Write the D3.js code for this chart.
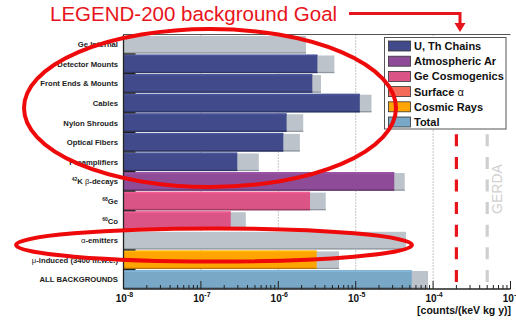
<!DOCTYPE html>
<html>
<head>
<meta charset="utf-8">
<script src="https://cdn.jsdelivr.net/npm/d3@7"></script>
<style>
  html, body { margin: 0; padding: 0; background: #fff; }
  svg { display: block; }
  text { font-family: "Liberation Sans", Arial, sans-serif; }
</style>
</head>
<body>
<div id="chart"></div>
<script>
// Background contributions per source, counts/(keV kg y)
const categories = [
  "Ge Internal", "Detector Mounts", "Front Ends & Mounts", "Cables",
  "Nylon Shrouds", "Optical Fibers", "Preamplifiers", "42K", "68Ge", "60Co",
  "α-emitters", "μ-induced", "ALL BACKGROUNDS"
];
const groups = [
  "U, Th Chains", "U, Th Chains", "U, Th Chains", "U, Th Chains",
  "U, Th Chains", "U, Th Chains", "U, Th Chains", "Atmospheric Ar",
  "Ge Cosmogenics", "Ge Cosmogenics", "Surface α", "Cosmic Rays", "Total"
];
// central estimate (coloured bar); null where only a limit exists
const values = [null, 3.2e-6, 2.75e-6, 1.13e-5, 1.28e-6, 1.16e-6, 2.95e-7,
                3.15e-5, 2.57e-6, 2.43e-7, null, 3.13e-6, 5.3e-5];
// upper bound (grey bar)
const limits = [2.28e-6, 5.3e-6, 3.56e-6, 1.6e-5, 2.1e-6, 1.9e-6, 5.6e-7,
                4.3e-5, 4.1e-6, 3.8e-7, 4.47e-5, 6.1e-6, 8.6e-5];

const legendNames = ["U, Th Chains", "Atmospheric Ar", "Ge Cosmogenics", "Surface α", "Cosmic Rays", "Total"];
const legendColors = ["#414b8b", "#8e4c98", "#db5486", "#f56b5a", "#ffa502", "#79a8c7"];

const xTicks = [1e-8, 1e-7, 1e-6, 1e-5, 1e-4, 1e-3];
const goalLevel = 2e-4;   // LEGEND-200 goal
const gerdaLevel = 5e-4;  // GERDA

const W = 516, H = 320;
const svg = d3.select("#chart").append("svg").attr("width", W).attr("height", H);

const x = d3.scaleLog().domain([1e-8, 1e-3]).range([123.5, 510.5]);
const y = d3.scaleBand().domain(categories).range([34.5, 289]).paddingInner(0.05).paddingOuter(0.02);
const color = d3.scaleOrdinal().domain(legendNames).range(legendColors);

const plotTop = 34.5, plotBottom = 289;

// dotted decade grid
svg.append("g").selectAll("line").data(xTicks.slice(1, 5)).join("line")
  .attr("x1", d => x(d)).attr("x2", d => x(d))
  .attr("y1", plotTop).attr("y2", plotBottom)
  .attr("stroke", "#8a8a8a").attr("stroke-width", 1).attr("stroke-dasharray", "1,2");

// goal and GERDA dashed levels
svg.append("line")
  .attr("x1", x(gerdaLevel)).attr("x2", x(gerdaLevel))
  .attr("y1", plotTop + 9.4).attr("y2", plotBottom - 5)
  .attr("stroke", "#cfcfcf").attr("stroke-width", 3.2).attr("stroke-dasharray", "12,10.6");
svg.append("line")
  .attr("x1", x(goalLevel)).attr("x2", x(goalLevel))
  .attr("y1", plotTop + 9.4).attr("y2", plotBottom - 5)
  .attr("stroke", "#e8141c").attr("stroke-width", 3.2).attr("stroke-dasharray", "12,10.6");
svg.append("text")
  .attr("transform", `translate(${x(gerdaLevel) + 15},189) rotate(-90)`)
  .attr("text-anchor", "middle").attr("font-size", 14).attr("fill", "#d0d0d0")
  .text("GERDA");

// bars
const rows = categories.map((c, i) => ({ c, g: groups[i], v: values[i], lim: limits[i] }));
const bars = svg.append("g");
rows.forEach(r => {
  const y0 = y(r.c), h = y.bandwidth();
  bars.append("rect").attr("x", x(1e-8)).attr("y", y0 + 1).attr("width", x(r.lim) - x(1e-8)).attr("height", h - 1)
    .attr("fill", "#bcc3cb");
  bars.append("rect").attr("x", x(1e-8)).attr("y", y0 + h - 1.2).attr("width", x(r.lim) - x(1e-8)).attr("height", 1.2)
    .attr("fill", "#8f969e");
  if (r.v != null) {
    const col = color(r.g);
    bars.append("rect").attr("x", x(1e-8)).attr("y", y0).attr("width", x(r.v) - x(1e-8)).attr("height", h)
      .attr("fill", col);
    bars.append("rect").attr("x", x(1e-8)).attr("y", y0 + 0.5).attr("width", x(r.v) - x(1e-8)).attr("height", 1.2)
      .attr("fill", d3.color(col).brighter(0.35));
    bars.append("rect").attr("x", x(1e-8)).attr("y", y0 + h - 1.3).attr("width", x(r.v) - x(1e-8)).attr("height", 1.3)
      .attr("fill", d3.color(col).darker(0.9));
  }
});

// inward ticks on the category axis
svg.append("g").selectAll("line").data(categories.slice(1)).join("line")
  .attr("x1", x(1e-8)).attr("x2", x(1e-8) + 12)
  .attr("y1", d => y(d) - 0.5).attr("y2", d => y(d) - 0.5)
  .attr("stroke", "#222").attr("stroke-width", 1.3);

// frame
svg.append("line").attr("x1", x(1e-8)).attr("x2", x(1e-3)).attr("y1", plotTop).attr("y2", plotTop)
  .attr("stroke", "#555").attr("stroke-width", 1);
svg.append("line").attr("x1", x(1e-8)).attr("x2", x(1e-8)).attr("y1", plotTop).attr("y2", plotBottom)
  .attr("stroke", "#222").attr("stroke-width", 1.3);

// x axis with log minor ticks pointing inward
const xAxis = svg.append("g").attr("transform", `translate(0,${plotBottom})`);
xAxis.append("line").attr("x1", x(1e-8)).attr("x2", x(1e-3)).attr("stroke", "#222").attr("stroke-width", 1.3);
const minor = [];
for (let e = -8; e < -3; e++) for (let m = 2; m <= 9; m++) minor.push(m * Math.pow(10, e));
xAxis.selectAll(".mn").data(minor).join("line").attr("class", "mn")
  .attr("x1", d => x(d)).attr("x2", d => x(d)).attr("y1", 0).attr("y2", -4)
  .attr("stroke", "#222").attr("stroke-width", 1);
xAxis.selectAll(".mj").data(xTicks).join("line").attr("class", "mj")
  .attr("x1", d => x(d)).attr("x2", d => x(d)).attr("y1", 0).attr("y2", -8)
  .attr("stroke", "#222").attr("stroke-width", 1);
const tl = xAxis.selectAll(".tl").data(xTicks).join("text").attr("class", "tl")
  .attr("x", d => x(d) + 1).attr("y", 13)
  .attr("text-anchor", "middle").attr("font-size", 10).attr("font-weight", "bold").attr("fill", "#111");
tl.append("tspan").text("10");
tl.append("tspan").attr("font-size", 7).attr("dy", -5).text(d => Math.round(Math.log10(d)));
svg.append("text").attr("x", 511).attr("y", 314).attr("text-anchor", "end")
  .attr("font-size", 10.5).attr("font-weight", "bold").attr("fill", "#111")
  .text("[counts/(keV kg y)]");

// category labels
const lab = svg.append("g").selectAll("text").data(categories).join("text")
  .attr("x", 118).attr("y", d => y(d) + y.bandwidth() / 2 + 3)
  .attr("text-anchor", "end").attr("font-size", 7.7).attr("font-weight", "bold").attr("fill", "#222");
lab.each(function (d) {
  const t = d3.select(this);
  if (d === "42K") {
    t.append("tspan").attr("font-size", 5).attr("dy", -3).text("42");
    t.append("tspan").attr("dy", 3).text("K ");
    t.append("tspan").attr("font-weight", "normal").text("β");
    t.append("tspan").text("-decays");
  } else if (d === "68Ge" || d === "60Co") {
    t.append("tspan").attr("font-size", 5).attr("dy", -3).text(d.slice(0, 2));
    t.append("tspan").attr("dy", 3).text(d.slice(2));
  } else if (d === "α-emitters") {
    t.append("tspan").attr("font-weight", "normal").text("α");
    t.append("tspan").text("-emitters");
  } else if (d === "μ-induced") {
    t.append("tspan").attr("font-weight", "normal").text("μ");
    t.append("tspan").text("-induced (3400 m.w.e.)");
  } else {
    t.text(d);
  }
});

// legend
const lg = svg.append("g").attr("transform", "translate(384,37)");
lg.append("rect").attr("x", 0.5).attr("y", 0.5).attr("width", 121.5).attr("height", 91.5)
  .attr("fill", "#fff").attr("stroke", "#555").attr("stroke-width", 1);
legendNames.forEach((n, i) => {
  const yy = 8.5 + i * 15.2;
  lg.append("rect").attr("x", 4.5).attr("y", yy - 4.5).attr("width", 22).attr("height", 10)
    .attr("fill", legendColors[i]).attr("stroke", "#333").attr("stroke-width", 0.8);
  const t = lg.append("text").attr("x", 30).attr("y", yy + 4.5)
    .attr("font-size", 11).attr("font-weight", "bold").attr("fill", "#111");
  if (n === "Surface α") {
    t.append("tspan").text("Surface ");
    t.append("tspan").attr("font-weight", "normal").text("α");
  } else t.text(n);
});

// annotation: heading, arrow to the goal line, highlight ellipses
svg.append("text").attr("x", 50).attr("y", 21).attr("font-family", "Lato, 'Liberation Sans', sans-serif")
  .attr("font-size", 20.5).attr("fill", "#e8141c").text("LEGEND-200 background Goal");
svg.append("path").attr("d", "M349,13.5 H460 V24").attr("fill", "none")
  .attr("stroke", "#e8141c").attr("stroke-width", 3);
svg.append("path").attr("d", "M454.5,23 H465.5 L460,32 Z").attr("fill", "#e8141c");
svg.append("ellipse").attr("cx", 210).attr("cy", 108).attr("rx", 186).attr("ry", 79)
  .attr("fill", "none").attr("stroke", "#ee0a0a").attr("stroke-width", 4);
svg.append("ellipse").attr("cx", 214).attr("cy", 245).attr("rx", 198).attr("ry", 16.5)
  .attr("fill", "none").attr("stroke", "#ee0a0a").attr("stroke-width", 4);
</script>
</body>
</html>
